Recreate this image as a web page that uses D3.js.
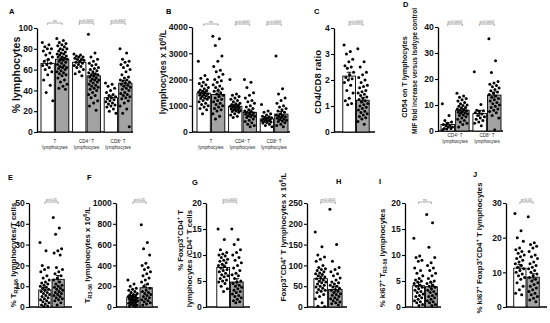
<!DOCTYPE html>
<html>
<head>
<meta charset="utf-8">
<script src="https://cdn.jsdelivr.net/npm/d3@7"></script>
<style>
body { margin: 0; background: #fff; }
text { font-family: "Liberation Sans", Arial, sans-serif; }
</style>
</head>
<body>
<div id="chart"></div>
<script>

// ---- data (controls = white, patients = grey) ----
var cats3 = [["T", "lymphocytes"], ["CD4^{+} T", "lymphocytes"], ["CD8^{+} T", "lymphocytes"]];
var cats2 = [["CD4^{+} T", "lymphocytes"], ["CD8^{+} T", "lymphocytes"]];
var cats1 = [["", ""]];

// A  % lymphocytes
var aTctrl = [86, 84, 82, 80, 80, 78, 76, 74, 72, 70, 68, 66, 65, 64, 62, 60, 58, 55, 50, 45, 38, 30];
var aTpat = [90, 88, 86, 85, 84, 83, 82, 80, 80, 79, 78, 77, 76, 75, 75, 74, 73, 72, 72, 71, 70, 70, 69, 68, 67, 66, 65, 64, 63, 62, 62, 61, 60, 59, 58, 57, 56, 55, 54, 52, 50, 48, 46, 44, 42, 41];
var aCD4ctrl = [75, 74, 73, 72, 72, 71, 70, 70, 69, 68, 67, 66, 65, 64, 63, 62, 60, 58, 56, 54];
var aCD4pat = [94, 76, 72, 70, 68, 66, 65, 64, 62, 61, 60, 59, 58, 57, 56, 55, 55, 54, 53, 52, 51, 50, 50, 49, 48, 47, 46, 45, 44, 43, 42, 41, 40, 38, 36, 35, 33, 30, 28, 25, 21];
var aCD8ctrl = [47, 46, 44, 42, 40, 38, 36, 35, 34, 33, 32, 31, 30, 29, 28, 27, 26, 25, 24, 22, 20, 18];
var aCD8pat = [80, 76, 70, 68, 67, 65, 64, 62, 60, 58, 55, 53, 52, 50, 50, 49, 48, 47, 46, 45, 44, 43, 42, 41, 40, 38, 37, 36, 35, 34, 33, 32, 30, 28, 25, 22, 18, 5];
var meansA = [66, 70, 67, 54, 33, 47];

// B  lymphocytes x 10^6/L
var bTctrl = [2700, 2150, 2050, 2000, 1900, 1850, 1800, 1750, 1700, 1650, 1600, 1580, 1550, 1520, 1500, 1480, 1450, 1420, 1400, 1380, 1350, 1320, 1300, 1280, 1250, 1200, 1150, 1100, 1050, 1000, 950, 900, 850, 700];
var bTpat = [3650, 3550, 3300, 2900, 2700, 2500, 2350, 2300, 2200, 2100, 2000, 1950, 1900, 1800, 1750, 1700, 1650, 1600, 1550, 1500, 1450, 1400, 1350, 1300, 1250, 1200, 1150, 1100, 1050, 1000, 950, 900, 850, 800, 700, 600, 500];
var bCD4ctrl = [2000, 1450, 1400, 1350, 1300, 1250, 1200, 1150, 1100, 1080, 1050, 1020, 1000, 980, 960, 940, 920, 900, 880, 860, 840, 820, 800, 780, 750, 700, 650, 600, 550];
var bCD4pat = [2000, 1900, 1700, 1500, 1400, 1300, 1200, 1150, 1100, 1000, 950, 900, 850, 800, 780, 750, 720, 700, 680, 650, 620, 600, 580, 550, 500, 450, 400, 350, 300, 250, 200];
var bCD8ctrl = [1050, 800, 750, 700, 650, 600, 580, 560, 540, 520, 500, 480, 460, 440, 420, 400, 380, 360, 340, 300, 250, 200];
var bCD8pat = [2900, 1650, 1450, 1300, 1200, 1100, 1000, 950, 900, 850, 800, 750, 700, 650, 620, 600, 580, 550, 520, 500, 480, 450, 420, 400, 350, 300, 250, 200];
var meansB = [1480, 1430, 980, 750, 500, 680];

// C  CD4/CD8 ratio
var cCtrl = [3.35, 3.1, 3.0, 2.8, 2.7, 2.55, 2.5, 2.45, 2.3, 2.2, 2.1, 2.05, 2.0, 1.9, 1.8, 1.6, 1.5, 1.3, 1.2, 1.1, 1.05];
var cPat = [3.2, 2.7, 2.5, 2.3, 2.2, 2.1, 2.0, 1.9, 1.8, 1.75, 1.7, 1.6, 1.55, 1.5, 1.45, 1.4, 1.35, 1.3, 1.25, 1.2, 1.15, 1.1, 1.05, 1.0, 0.95, 0.9, 0.85, 0.8, 0.75, 0.7, 0.65, 0.6, 0.55, 0.5, 0.4, 0.3];
var meansC = [2.15, 1.22];

// D  CD54 MIF fold increase
var dCD4ctrl = [10.5, 6, 4, 3.5, 3, 2.5, 2, 2, 1.5, 1.5, 1, 1, 0.8, 0.5];
var dCD4pat = [14.5, 13.5, 13, 12.5, 12, 11.5, 11, 10.5, 10, 9.8, 9.5, 9, 8.8, 8.5, 8.2, 8, 7.8, 7.5, 7.2, 7, 6.8, 6.5, 6.2, 6, 5.5, 5, 4.5, 4, 3.5, 3, 2.5, 1.5];
var dCD8ctrl = [22.8, 10.2, 8, 7.8, 7.5, 7, 6.5, 6, 5.5, 5, 4.5, 4, 3.5, 3, 2];
var dCD8pat = [35.5, 27, 22.5, 19, 18.5, 18, 17.5, 17, 16.5, 16, 15.5, 15, 14.5, 14, 13.5, 13, 12.5, 12, 11.5, 11, 10.5, 10, 9.5, 9, 8.5, 8, 7.5, 7, 6, 5, 0.5];
var meansD = [2.5, 8, 6.7, 13.8];

// E  % TR3-56 / T cells
var eCtrl = [31, 27, 20, 19, 18, 17, 15, 14, 13, 12, 11.5, 11, 10.5, 10, 9.5, 9, 8.5, 8, 7.5, 7, 6.5, 6, 5.5, 5, 4.5, 4, 3.5, 3, 2.5, 2, 1.5, 1, 0.5, 0.3];
var ePat = [43, 38, 35, 28, 27, 26, 25, 19, 18, 17, 16, 15, 14, 13, 12, 11, 10.5, 10, 9.5, 9, 8.5, 8, 7.5, 7, 6.5, 6, 5.5, 5, 4.5, 4, 3.5, 3, 2, 1];
var meansE = [8.2, 13.3];

// F  TR3-56 x 10^6/L
var fCtrl = [260, 220, 200, 180, 170, 160, 150, 140, 130, 120, 115, 110, 105, 100, 95, 90, 85, 80, 75, 70, 65, 60, 55, 50, 45, 40, 35, 30, 25, 20, 15, 10, 5];
var fPat = [790, 620, 560, 500, 420, 400, 380, 360, 340, 320, 300, 280, 260, 240, 220, 200, 180, 160, 150, 140, 130, 120, 110, 100, 90, 80, 70, 60, 50, 40, 30, 20];
var meansF = [90, 185];

// G  % Foxp3+CD4+ / CD4+
var gCtrl = [15, 13, 11, 10.5, 10.2, 10, 9.8, 9.5, 9.2, 9, 8.8, 8.5, 8.2, 8, 7.8, 7.5, 7.2, 7, 6.8, 6.5, 6.2, 6, 5.8, 5.5, 5.2, 5, 4.8, 4.5, 4, 3.5, 3];
var gPat = [15, 13, 12, 11, 10.5, 10, 9.5, 9, 8.5, 8, 7.5, 7, 6.5, 6.2, 6, 5.5, 5, 4.8, 4.5, 4.2, 4, 3.8, 3.5, 3.2, 3, 2.8, 2.5, 2.2, 2, 1.8, 1.5, 1.2, 1, 0.8];
var meansG = [7.6, 4.8];

// H  Foxp3+CD4+ x 10^6/L
var hCtrl = [180, 145, 125, 120, 115, 110, 100, 95, 92, 90, 88, 85, 82, 80, 78, 75, 72, 70, 68, 65, 62, 60, 58, 55, 52, 50, 48, 45, 42, 40, 38, 35, 30, 25, 20, 10, 2, 1];
var hPat = [235, 150, 110, 95, 90, 85, 80, 75, 70, 65, 60, 58, 55, 52, 50, 48, 45, 42, 40, 38, 35, 32, 30, 28, 25, 22, 20, 18, 15, 12, 10, 8, 5];
var meansH = [68, 42];

// I  % ki67+ TR3-56
var iCtrl = [13.2, 9.8, 9.5, 9, 8.8, 7.5, 7, 6.5, 6, 5.5, 5.2, 5, 4.8, 4.5, 4.2, 4, 3.8, 3.5, 3.2, 3, 2.8, 2.5, 2.2, 2, 1.8, 1.5, 1.2, 1, 0.8, 0.5, 0.3];
var iPat = [17.8, 16.2, 11.5, 9.5, 8.5, 8, 7.5, 7, 6.5, 6, 5.5, 5, 4.8, 4.5, 4.2, 4, 3.8, 3.5, 3.2, 3, 2.8, 2.5, 2.2, 2, 1.8, 1.5, 1.2, 1, 0.8, 0.5, 0.3];
var meansI = [4.1, 3.9];

// J  % ki67+ Foxp3+CD4+
var jCtrl = [27, 22, 20, 19, 17, 16.5, 16, 15.5, 15, 14.5, 14, 13.5, 13, 12.5, 12, 11.5, 11, 10.5, 10, 9.5, 9, 8.5, 8, 7, 6, 5, 4, 3.5];
var jPat = [26, 18.5, 18, 17.5, 17, 16, 15, 14.5, 14, 13, 12.5, 12, 11.5, 11, 10.5, 10, 9.5, 9, 8.5, 8, 7.5, 7, 6.5, 6, 5.5, 5, 4.5, 4, 3.5, 3, 2.5, 2, 1.5];
var meansJ = [11.2, 8.6];

// ---- layout ----
var fills = ["#ffffff", "#a3a3a3"];

var panels = [
	{ id: "A", tx: 9, ty: 14, ax: 37, bx0: 41, bx1: 132, xend: 133, y0: 28, y1: 132, max: 100, ticks: [0, 20, 40, 60, 80, 100],
		cats: cats3, vals: [[aTctrl, aTpat], [aCD4ctrl, aCD4pat], [aCD8ctrl, aCD8pat]], means: meansA,
		sig: ["ns", "p<0.0001", "p<0.0001"], by: 23, ly: 143,
		ylab: [{ t: "% lymphocytes", x: 20, y: 75, fs: 10.5 }] },
	{ id: "B", tx: 166, ty: 14, ax: 192, bx0: 197, bx1: 288, xend: 290, y0: 27, y1: 132, max: 4000, ticks: [0, 1000, 2000, 3000, 4000],
		cats: cats3, vals: [[bTctrl, bTpat], [bCD4ctrl, bCD4pat], [bCD8ctrl, bCD8pat]], means: meansB,
		sig: ["ns", "p<0.0001", "p<0.0001"], by: 24, ly: 143,
		ylab: [{ t: "lymphocytes x 10^{6}/L", x: 166, y: 72, fs: 8.8 }] },
	{ id: "C", tx: 314, ty: 14, ax: 334, bx0: 341, bx1: 371, xend: 375, y0: 28, y1: 132, max: 4, ticks: [0, 1, 2, 3, 4],
		cats: cats1, vals: [[cCtrl, cPat]], means: meansC,
		sig: ["p<0.0001"], by: 24, ly: null,
		ylab: [{ t: "CD4/CD8 ratio", x: 321, y: 82, fs: 9.5 }] },
	{ id: "D", tx: 403, ty: 7, ax: 438, bx0: 441, bx1: 501, xend: 503, y0: 27, y1: 131, max: 40, ticks: [0, 10, 20, 30, 40],
		cats: cats2, vals: [[dCD4ctrl, dCD4pat], [dCD8ctrl, dCD8pat]], means: meansD,
		sig: ["p<0.0001", "p<0.0001"], by: 24, ly: 137,
		ylab: [{ t: "CD54 on T lymphocytes", x: 407, y: 77, fs: 7.2 }, { t: "MIF fold increase versus Isotype control", x: 417, y: 71, fs: 6.6 }] },
	{ id: "E", tx: 8, ty: 180, ax: 29, bx0: 37, bx1: 66, xend: 72, y0: 203, y1: 307, max: 50, ticks: [0, 10, 20, 30, 40, 50],
		cats: cats1, vals: [[eCtrl, ePat]], means: meansE,
		sig: ["p<0.05"], by: 202, ly: null,
		ylab: [{ t: "% T_{R3-56} lymphocytes/T cells", x: 16, y: 255, fs: 7.8 }] },
	{ id: "F", tx: 87, ty: 180, ax: 116, bx0: 125, bx1: 154, xend: 158, y0: 203, y1: 307, max: 1000, ticks: [0, 200, 400, 600, 800, 1000],
		cats: cats1, vals: [[fCtrl, fPat]], means: meansF,
		sig: ["p<0.05"], by: 202, ly: null,
		ylab: [{ t: "T_{R3-56} lymphocytes  x 10^{6}/L", x: 90, y: 255, fs: 7.8 }] },
	{ id: "G", tx: 192, ty: 185, ax: 206, bx0: 215, bx1: 245, xend: 250, y0: 203, y1: 307, max: 20, ticks: [0, 5, 10, 15, 20],
		cats: cats1, vals: [[gCtrl, gPat]], means: meansG,
		sig: ["p<0.0001"], by: 202, ly: null,
		ylab: [{ t: "% Foxp3^{+}CD4^{+} T", x: 183, y: 210, fs: 7.8, anchor: "end" }, { t: "lymphocytes /CD4^{+} T cells", x: 192, y: 210, fs: 7.8, anchor: "end" }] },
	{ id: "H", tx: 336, ty: 184, ax: 307, bx0: 312, bx1: 344, xend: 347, y0: 203, y1: 307, max: 250, ticks: [0, 50, 100, 150, 200, 250],
		cats: cats1, vals: [[hCtrl, hPat]], means: meansH,
		sig: ["p<0.0001"], by: 202, ly: null,
		ylab: [{ t: "Foxp3^{+}CD4^{+} T lymphocytes x 10^{6}/L", x: 286, y: 237, fs: 7.8 }] },
	{ id: "I", tx: 379, ty: 184, ax: 405, bx0: 411, bx1: 439, xend: 441, y0: 203, y1: 307, max: 20, ticks: [0, 5, 10, 15, 20],
		cats: cats1, vals: [[iCtrl, iPat]], means: meansI,
		sig: ["ns"], by: 202, ly: null,
		ylab: [{ t: "% ki67^{+} T_{R3-56} lymphocytes", x: 385, y: 258, fs: 7.8 }] },
	{ id: "J", tx: 473, ty: 177, ax: 506, bx0: 512, bx1: 541, xend: 547, y0: 203, y1: 307, max: 30, ticks: [0, 10, 20, 30],
		cats: cats1, vals: [[jCtrl, jPat]], means: meansJ,
		sig: ["p<0.05"], by: 202, ly: null,
		ylab: [{ t: "% ki67^{+} Foxp3^{+}CD4^{+} T lymphocytes", x: 482, y: 248, fs: 7.8 }] }
];

var svg = d3.select("#chart")
	.append("svg")
	.attr("width", 550)
	.attr("height", 323);

// writes "a_{sub}" / "a^{sup}" markup into tspans
function rich(t, str, fs) {
	var re = /([_^])\{([^}]*)\}/g, last = 0, m, off = 0;
	function add(txt, o, small) {
		if (!txt) return;
		t.append("tspan")
			.attr("dy", o - off)
			.attr("font-size", small ? fs * 0.68 : fs)
			.text(txt);
		off = o;
	}
	while ((m = re.exec(str))) {
		add(str.slice(last, m.index), 0, false);
		add(m[2], m[1] == "_" ? fs * 0.28 : -fs * 0.38, true);
		last = re.lastIndex;
	}
	add(str.slice(last), 0, false);
}

function drawPanel(p) {
	var g = svg.append("g");

	var y = d3.scaleLinear().domain([0, p.max]).range([p.y1, p.y0]);
	var catIdx = p.cats.map(function(d, i) { return i; });
	var outer = d3.scaleBand().domain(catIdx).range([p.bx0, p.bx1]).paddingInner(0.12);
	var inner = d3.scaleBand().domain([0, 1]).range([0, outer.bandwidth()]).paddingInner(0.08);
	var bw = inner.bandwidth();

	// title letter
	g.append("text")
		.attr("x", p.tx).attr("y", p.ty)
		.attr("font-size", 7.5).attr("font-weight", "bold")
		.text(p.id);

	// y axis
	var yAxis = g.append("g")
		.attr("transform", "translate(" + p.ax + ",0)")
		.call(d3.axisLeft(y).tickValues(p.ticks).tickFormat(d3.format("d"))
			.tickSize(3).tickSizeOuter(0).tickPadding(1.2));
	yAxis.select(".domain").attr("stroke-width", 1.3);
	yAxis.selectAll(".tick line").attr("stroke-width", 1.1);
	yAxis.selectAll(".tick text")
		.attr("font-size", 8.6).attr("font-weight", "bold").attr("fill", "#111")
		.style("font-family", "'Liberation Sans', Arial, sans-serif");

	// x axis line
	g.append("line")
		.attr("x1", p.ax).attr("x2", p.xend)
		.attr("y1", y(0)).attr("y2", y(0))
		.attr("stroke", "#000").attr("stroke-width", 1.3);

	// y label lines
	p.ylab.forEach(function(l) {
		var t = g.append("text")
			.attr("transform", "translate(" + l.x + "," + l.y + ") rotate(-90)")
			.attr("text-anchor", l.anchor || "middle")
			.attr("font-weight", "bold")
			.attr("fill", "#111");
		rich(t, l.t, l.fs);
	});

	catIdx.forEach(function(ci) {
		var gx = outer(ci);
		p.vals[ci].forEach(function(vals, j) {
			var x = gx + inner(j);
			var cx = x + bw / 2;
			var mean = p.means[ci * 2 + j];
			var sem = d3.deviation(vals) / Math.sqrt(vals.length);

			g.append("rect")
				.attr("x", x).attr("y", y(mean))
				.attr("width", bw).attr("height", y(0) - y(mean))
				.attr("fill", fills[j])
				.attr("stroke", "#000").attr("stroke-width", 0.9);

			// points spread across the bar
			g.append("g").selectAll("circle")
				.data(vals)
				.enter().append("circle")
				.attr("cx", function(d, i) { return cx + (((i * 0.618034) % 1) - 0.5) * bw * 0.8; })
				.attr("cy", function(d) { return y(d); })
				.attr("r", 1.5)
				.attr("fill", "#000");

			// mean +/- SEM
			g.append("line")
				.attr("x1", cx).attr("x2", cx)
				.attr("y1", y(mean - sem)).attr("y2", y(mean + sem))
				.attr("stroke", "#000").attr("stroke-width", 0.9);
			g.append("line")
				.attr("x1", cx - bw * 0.18).attr("x2", cx + bw * 0.18)
				.attr("y1", y(mean + sem)).attr("y2", y(mean + sem))
				.attr("stroke", "#000").attr("stroke-width", 0.9);
		});

		// significance bracket
		var c1 = gx + inner(0) + bw / 2, c2 = gx + inner(1) + bw / 2;
		g.append("path")
			.attr("d", "M" + c1 + "," + (p.by + 2) + "V" + p.by + "H" + c2 + "V" + (p.by + 2))
			.attr("fill", "none").attr("stroke", "#777").attr("stroke-width", 0.6);
		g.append("text")
			.attr("x", (c1 + c2) / 2).attr("y", p.by - 1)
			.attr("text-anchor", "middle")
			.attr("font-size", 3.6).attr("fill", "#666")
			.text(p.sig[ci]);

		// category labels
		if (p.ly) {
			var mid = gx + outer.bandwidth() / 2;
			p.cats[ci].forEach(function(line, k) {
				var t = g.append("text")
					.attr("x", mid).attr("y", p.ly + k * 5.5)
					.attr("text-anchor", "middle")
					.attr("fill", "#222");
				rich(t, line, 4.6);
			});
		}
	});
}

panels.forEach(drawPanel);

</script>
</body>
</html>
